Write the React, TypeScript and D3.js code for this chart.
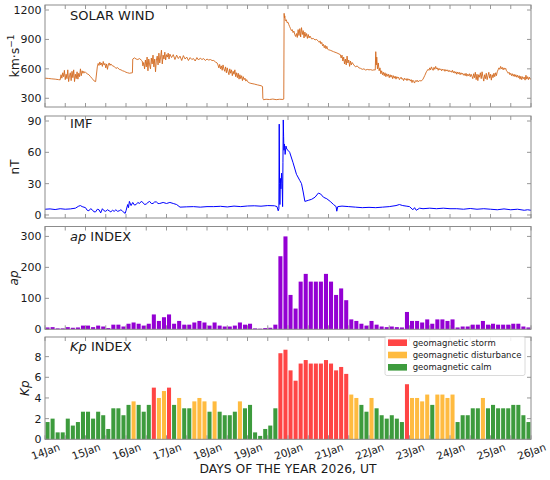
import React from 'react';
import * as d3 from 'd3';

const W = 550;
const H = 480;
const X0 = 45;
const X1 = 531;
const FONT = '"DejaVu Sans", Verdana, sans-serif';

const dayLabels = ['14Jan', '15Jan', '16Jan', '17Jan', '18Jan', '19Jan', '20Jan', '21Jan', '22Jan', '23Jan', '24Jan', '25Jan', '26Jan'];

// solar wind speed [hour since 14 Jan 00 UT, km/s]
const solarWind: [number, number][] = [
  [0, 505], [2, 502], [4, 498], [6, 495], [8, 490], [9, 488],
  [9.5, 540], [10, 505], [10.5, 560], [11, 520], [11.5, 585], [12, 490], [12.5, 545], [13, 500], [13.5, 590], [14, 470], [14.5, 530], [15, 560], [15.5, 480], [16, 575], [16.5, 510], [17, 590], [17.5, 470], [18, 545], [18.5, 500], [19, 570], [19.5, 495], [20, 555], [20.5, 520], [21, 600], [21.5, 530], [22, 580], [22.5, 555], [23, 575], [23.5, 560],
  [24, 565], [25, 550], [26, 540], [27, 520], [28, 500], [29, 478], [30, 470],
  [31, 620], [31.5, 655], [32, 635], [32.5, 670], [33, 640], [33.5, 660], [34, 625], [34.5, 675], [35, 640], [35.5, 655], [36, 610], [36.5, 650], [37, 595], [37.5, 640], [38, 660], [38.5, 635], [39, 650],
  [40, 630], [41, 625], [42, 605], [43, 612], [44, 595], [45, 590], [46, 580], [47, 575], [48, 565], [49, 560], [50, 555], [51, 558],
  [51.8, 560], [52, 700], [53, 712], [54, 700], [55, 695], [56, 705], [57, 690],
  [57.6, 680], [58, 630], [58.5, 665], [59, 600], [59.5, 690], [60, 620], [60.5, 720], [61, 580], [61.5, 700], [62, 640], [62.5, 600], [63, 710], [63.5, 650], [64, 740], [64.5, 620], [65, 700], [65.5, 570], [66, 690], [66.5, 730], [67, 640], [67.5, 760], [68, 660], [68.5, 720], [69, 790], [69.5, 650], [70, 740], [70.5, 700], [71, 770], [71.5, 690], [72, 745], [72.5, 720], [73, 760], [73.5, 700], [74, 750],
  [75, 715], [76, 745], [77, 695], [78, 740], [79, 705], [80, 730], [81, 685], [82, 735], [83, 700], [84, 720], [85, 685], [86, 715], [87, 695], [88, 705], [89, 680], [90, 715], [91, 690], [92, 710], [93, 695], [94, 705], [95, 685], [96, 700], [97, 690], [98, 695], [99, 685], [100, 685], [101, 670], [102, 660],
  [102.5, 640], [103, 610], [103.5, 645], [104, 600], [104.5, 630], [105, 585], [105.5, 640], [106, 600], [106.5, 575], [107, 620], [107.5, 560], [108, 610], [108.5, 570], [109, 540], [109.5, 600], [110, 555], [110.5, 590], [111, 530], [111.5, 575], [112, 545], [112.5, 590], [113, 520], [113.5, 560], [114, 510], [114.5, 555], [115, 495], [115.5, 540], [116, 500], [116.5, 530], [117, 480], [117.5, 520], [118, 490], [118.5, 505], [119, 475], [119.5, 490], [120, 470],
  [121, 458], [122, 452], [124, 445], [126, 436], [128, 428], [128.9, 420], [129.1, 300], [129.5, 285], [131, 290], [133, 287], [135, 292], [137, 286], [139, 290], [141, 288], [141.5, 292], [141.7, 1166], [141.9, 1120], [142.1, 1140], [142.4, 1090], [143, 1100], [143.5, 1070], [144, 1075],
  [144.5, 1050], [145, 1030], [145.5, 1010], [146, 990], [146.5, 1000], [147, 970], [147.5, 985], [148, 950], [148.5, 930], [149, 960], [149.5, 920], [150, 1000], [150.5, 940], [151, 1010], [151.5, 925], [152, 1020], [152.5, 950], [153, 990], [153.5, 915], [154, 975], [154.5, 930], [155, 960], [155.5, 910], [156, 950], [156.5, 915], [157, 935],
  [158, 905], [159, 910], [160, 895], [161, 900], [162, 880], [162.5, 870], [163, 885], [163.5, 855], [164, 870], [164.5, 835], [165, 850], [165.5, 815], [166, 840], [166.5, 805], [167, 830], [167.5, 800], [168, 795],
  [169, 790], [171, 775], [173, 762], [175, 745],
  [175.5, 710], [176, 740], [176.5, 680], [177, 720], [177.5, 650], [178, 700], [178.5, 640], [179, 730], [179.5, 660], [180, 690], [180.5, 625], [181, 680], [181.5, 640], [182, 665],
  [183, 640], [184, 620], [185, 630], [186, 610], [187, 605], [188, 595], [189, 600], [190, 588], [191, 594], [192, 590], [193, 592], [194, 586], [195, 590], [195.7, 588],
  [196, 775], [196.3, 640], [196.6, 720], [197, 600], [197.5, 660], [198, 580], [198.5, 610], [199, 550], [199.5, 580], [200, 540], [200.5, 565], [201, 530], [201.5, 560], [202, 520], [202.5, 550], [203, 525], [203.5, 545], [204, 510], [204.5, 540], [205, 515], [205.5, 535], [206, 500], [206.5, 530], [207, 505], [207.5, 525], [208, 495], [208.5, 520], [209, 505], [209.5, 515], [210, 490], [211, 515], [211.5, 495], [212, 500], [212.5, 480], [213, 505], [213.5, 490], [214, 500], [214.5, 480], [215, 500], [215.5, 485], [216, 495],
  [216.5, 475], [217, 490], [217.5, 460], [218, 485], [218.5, 470], [219, 455], [219.5, 480], [220, 470], [220.5, 485], [221, 468], [222, 480], [223, 476], [224, 495],
  [225, 530], [226, 570], [227, 595],
  [227.5, 585], [228, 610], [228.5, 590], [229, 620], [229.5, 600], [230, 585], [230.5, 615], [231, 595], [231.5, 625], [232, 600], [232.5, 610], [233, 585], [233.5, 605], [234, 590], [234.5, 600], [235, 580], [235.5, 598], [236, 585], [236.5, 595], [237, 575], [237.5, 592], [238, 578], [238.5, 590], [239, 572], [239.5, 585], [240, 570], [240.5, 580],
  [241, 565], [241.5, 585], [242, 560], [242.5, 575], [243, 555], [243.5, 570], [244, 545], [244.5, 568], [245, 550], [245.5, 565], [246, 540], [246.5, 560], [247, 545], [247.5, 555], [248, 535], [248.5, 550], [249, 530], [249.5, 555], [250, 525], [250.5, 545], [251, 530], [251.5, 550], [252, 520], [252.5, 545], [253, 525],
  [253.5, 500], [254, 550], [254.5, 510], [255, 565], [255.5, 490], [256, 545], [256.5, 480], [257, 540], [257.5, 515], [258, 560], [258.5, 500], [259, 570], [259.5, 520], [260, 475], [260.5, 540], [261, 500], [261.5, 555], [262, 490], [262.5, 530], [263, 565], [263.5, 505], [264, 545], [264.5, 485], [265, 540], [265.5, 510], [266, 555], [266.5, 520], [267, 560], [267.5, 530], [268, 570],
  [268.5, 590], [269, 610], [269.5, 595], [270, 625], [270.5, 600], [271, 615], [271.5, 590], [272, 610], [272.5, 595], [273, 605], [273.5, 580], [274, 570],
  [274.5, 555], [275, 565], [275.5, 540], [276, 555], [276.5, 530], [277, 550], [277.5, 525], [278, 545], [278.5, 520], [279, 540], [279.5, 515], [280, 535], [280.5, 510], [281, 530], [281.5, 495], [282, 525], [282.5, 490], [283, 520], [283.5, 500], [284, 515], [284.5, 485], [285, 535], [285.5, 495], [286, 520], [286.5, 490], [287, 515], [287.5, 495], [288, 500],
];

// IMF magnitude [hour, nT]
const imf: [number, number][] = [
  [0, 5.5], [3, 5.8], [6, 5.2], [9, 6], [12, 5.5], [15, 5.8], [18, 6.5], [20, 8.5], [21, 9], [22, 8],
  [24, 7], [25, 4.5], [26, 4], [27, 6], [28, 5], [29, 3], [30, 3], [31, 5.5], [32, 5], [33, 2], [34, 6], [35, 4], [36, 3.5], [37, 5], [38, 4], [39, 3], [40, 4.5], [41, 3.5], [42, 5], [43, 3.5], [44, 4], [45, 5], [46, 3.5], [47.5, 1.5],
  [48, 4], [49, 10], [49.5, 7], [50, 13], [51, 9], [52, 12], [53, 9.5], [54, 10], [55, 12], [56, 11], [57, 13], [58, 12], [59, 10], [60, 10.5], [61, 12], [62, 13], [63, 11], [64, 11], [65, 12.5], [66, 12.5], [67, 11], [68, 11], [70, 12],
  [72, 11], [74, 12], [76, 11], [78, 10], [80, 7.5], [84, 7.8], [88, 8], [92, 7.5], [96, 8],
  [100, 8], [104, 8.3], [108, 7.7], [112, 8.5], [116, 8], [120, 8.6], [124, 8.8], [128, 8.4], [132, 9], [136, 8.8], [137.5, 8],
  [138.2, 4], [138.6, 6], [138.8, 87], [139, 30], [139.2, 10], [139.5, 35], [139.8, 25], [140.2, 40], [140.5, 30], [140.8, 8], [141, 50], [141.2, 91], [141.4, 75], [141.6, 62], [141.9, 68], [142.3, 58], [142.8, 66], [143.3, 63], [144, 62], [145, 60],
  [147, 50], [149, 39], [151, 33], [152, 30], [153, 22], [154, 13], [156, 14], [158, 15], [160, 17], [162, 21], [163.4, 20], [165, 17], [167, 15.5], [169, 13], [171, 10], [172.5, 8], [172.9, 3.6], [173.5, 8],
  [176, 8.5], [180, 8], [184, 7.5], [188, 7], [192, 7.3], [196, 7], [200, 7.5], [204, 8], [208, 9], [210, 10], [212, 9], [214, 8.5],
  [216, 8], [218, 5], [219, 7], [220, 4.5], [222, 6.5], [224, 6], [228, 6.5], [232, 6], [236, 6.5], [240, 6], [244, 6], [248, 5.5], [252, 6.2], [256, 5.5], [260, 6], [264, 5.5], [268, 5], [272, 5.8], [276, 5], [280, 5.5], [284, 4.5], [286, 5], [288, 4.5],
];

// 3-hourly Kp and ap
const kp: number[] = [
  1.67, 2, 0.67, 0.67, 2, 1.33, 1.67, 2.67, 2.67, 2, 2.67, 2.33, 1, 3, 3, 2.33,
  3.33, 3.67, 3.33, 2.67, 3.33, 5, 4, 4.67, 5, 3.33, 4, 3, 3, 3.67, 4, 3.67,
  2.67, 3.67, 2.67, 2.33, 2.33, 2.67, 3.67, 3, 3.33, 0.67, 0.33, 1, 1.33, 3, 8.33, 8.67,
  6.67, 5.67, 7.33, 7.67, 7.33, 7.33, 7.33, 7.67, 7.33, 6.67, 7, 6.33, 4.33, 4, 3.33, 2.67,
  4, 3, 2.33, 2, 2.33, 2, 1.67, 5.33, 4, 4, 3.67, 4.33, 3.33, 4.33, 4.33, 4,
  4.33, 1.67, 2.33, 2.33, 3, 3, 4, 3, 3.33, 3, 3, 3, 3.33, 3.33, 2.33, 1.67,
];
const ap: number[] = [
  6, 7, 3, 3, 7, 5, 6, 12, 12, 7, 12, 9, 4, 15, 15, 9,
  18, 22, 18, 12, 18, 48, 27, 39, 48, 18, 27, 15, 15, 22, 27, 22,
  12, 22, 12, 9, 9, 12, 22, 15, 18, 3, 2, 4, 5, 15, 236, 300,
  111, 67, 154, 179, 154, 154, 154, 179, 154, 111, 132, 94, 32, 27, 18, 12,
  27, 15, 9, 7, 9, 7, 6, 56, 27, 27, 22, 32, 18, 32, 32, 27,
  32, 6, 9, 9, 15, 15, 27, 15, 18, 15, 15, 15, 18, 18, 9, 6,
];

const swTicks = [300, 600, 900, 1200];
const imfTicks = [0, 30, 60, 90];
const apTicks = [0, 100, 200, 300];
const kpTicks = [0, 2, 4, 6, 8];

const legendLabels = ['geomagnetic storm', 'geomagnetic disturbance', 'geomagnetic calm'];
const legendColors = ['#ff4545', '#ffbb40', '#3d9b3d'];

const kpColor = (v: number) => (v >= 5 ? legendColors[0] : v >= 3.6 ? legendColors[1] : legendColors[2]);

const x = d3.scaleLinear().domain([0, 288]).range([X0, X1]);

const panels = [
  { top: 5, bottom: 107, domain: [211, 1251], ticks: swTicks },
  { top: 116, bottom: 218, domain: [-2.9, 94.8], ticks: imfTicks },
  { top: 226.5, bottom: 329.3, domain: [0, 332], ticks: apTicks },
  { top: 337, bottom: 439.3, domain: [0, 9.9], ticks: kpTicks },
];

const FRAME = '#8c8c8c';
const TXT = '#1a1a1a';

function Frame({ p, y }: { p: any; y: d3.ScaleLinear<number, number> }) {
  const xt = d3.range(0, 289, 12);
  return (
    <g>
      {xt.map((h) => (
        <g key={'x' + h}>
          <line x1={x(h)} x2={x(h)} y1={p.bottom} y2={p.bottom - 4} stroke={FRAME} strokeWidth={0.9} />
          <line x1={x(h)} x2={x(h)} y1={p.top} y2={p.top + 4} stroke={FRAME} strokeWidth={0.9} />
        </g>
      ))}
      {p.ticks.map((t: number) => (
        <g key={'y' + t}>
          <line x1={X0} x2={X0 + 4} y1={y(t)} y2={y(t)} stroke={FRAME} strokeWidth={0.9} />
          <line x1={X1} x2={X1 - 4} y1={y(t)} y2={y(t)} stroke={FRAME} strokeWidth={0.9} />
          <text x={X0 - 3.5} y={y(t)} dy="0.36em" textAnchor="end" fontSize={11} fill={TXT}>
            {t}
          </text>
        </g>
      ))}
      <rect x={X0} y={p.top} width={X1 - X0} height={p.bottom - p.top} fill="none" stroke={FRAME} strokeWidth={1} />
    </g>
  );
}

export default function App() {
  const ys = panels.map((p) => d3.scaleLinear().domain(p.domain).range([p.bottom, p.top]));
  const swLine = d3.line<[number, number]>().x((d) => x(d[0])).y((d) => ys[0](d[1]));
  const imfLine = d3.line<[number, number]>().x((d) => x(d[0])).y((d) => ys[1](d[1]));
  const bin = x(3) - x(0);
  const bw = bin * 0.8;

  return (
    <svg width={W} height={H} style={{ position: 'absolute', left: 0, top: 0, background: '#fff' }} fontFamily={FONT}>
      <rect width={W} height={H} fill="#fff" />
      {/* Solar wind */}
      <path d={swLine(solarWind) || ''} fill="none" stroke="#d2691e" strokeWidth={0.9} strokeLinejoin="round" />
      {/* IMF */}
      <path d={imfLine(imf) || ''} fill="none" stroke="#0000ff" strokeWidth={1} strokeLinejoin="round" />
      {/* ap */}
      {ap.map((v, i) => (
        <rect key={'ap' + i} x={x(i * 3) + (bin - bw) / 2} width={bw} y={ys[2](v)} height={ys[2](0) - ys[2](v)} fill="#9400d3" />
      ))}
      {/* Kp */}
      {kp.map((v, i) => (
        <rect key={'kp' + i} x={x(i * 3) + (bin - bw) / 2} width={bw} y={ys[3](v)} height={ys[3](0) - ys[3](v)} fill={kpColor(v)} />
      ))}

      {panels.map((p, i) => (
        <Frame key={i} p={p} y={ys[i]} />
      ))}

      {/* panel titles */}
      <text x={70} y={19.5} fontSize={13} fill={TXT}>SOLAR WIND</text>
      <text x={70} y={128} fontSize={13} fill={TXT}>IMF</text>
      <text x={70} y={240.5} fontSize={13} fill={TXT}>
        <tspan fontStyle="italic">ap</tspan> INDEX
      </text>
      <text x={70} y={350.5} fontSize={13} fill={TXT}>
        <tspan fontStyle="italic">Kp</tspan> INDEX
      </text>

      {/* y labels */}
      <text transform={`translate(18.5,${(panels[0].top + panels[0].bottom) / 2}) rotate(-90)`} textAnchor="middle" fontSize={12.5} fill={TXT}>
        km·s<tspan dy="-0.45em" fontSize={9}>−1</tspan>
      </text>
      <text transform={`translate(19,${(panels[1].top + panels[1].bottom) / 2}) rotate(-90)`} textAnchor="middle" fontSize={12} fill={TXT}>
        nT
      </text>
      <text transform={`translate(18.3,${(panels[2].top + panels[2].bottom) / 2}) rotate(-90)`} textAnchor="middle" fontSize={12} fill={TXT} fontStyle="italic">
        ap
      </text>
      <text transform={`translate(28.5,${(panels[3].top + panels[3].bottom) / 2}) rotate(-90)`} textAnchor="middle" fontSize={12} fill={TXT} fontStyle="italic">
        Kp
      </text>

      {/* x tick labels */}
      {dayLabels.map((d, i) => (
        <text key={d} transform={`translate(${x(i * 24) + 0.5},451.5) rotate(-20)`} textAnchor="middle" dy="0.36em" fontSize={10.5} fill={TXT}>
          {d}
        </text>
      ))}
      <text x={(X0 + X1) / 2} y={473} textAnchor="middle" fontSize={12.3} fill={TXT}>
        DAYS OF THE YEAR 2026, UT
      </text>

      {/* legend */}
      <g>
        <rect x={385} y={336.5} width={140} height={39} rx={2} fill="#fff" fillOpacity={0.85} stroke="#d0d0d0" strokeWidth={0.8} />
        {legendLabels.map((l, i) => (
          <g key={l}>
            <rect x={388} y={342.7 + i * 12.3 - 3.3} width={19} height={6.6} fill={legendColors[i]} />
            <text x={412.7} y={342.7 + i * 12.3} dy="0.35em" fontSize={8.5} fill={TXT}>
              {l}
            </text>
          </g>
        ))}
      </g>
    </svg>
  );
}
